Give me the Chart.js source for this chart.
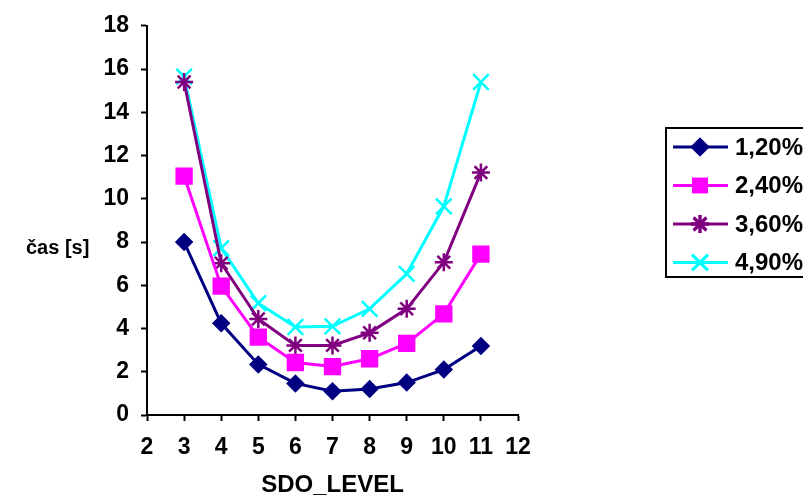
<!DOCTYPE html>
<html lang="sk">
<head>
  <meta charset="UTF-8" />
  <title>SDO_LEVEL vs čas</title>
  <script src="https://cdn.jsdelivr.net/npm/chart.js"></script>
  <style>
    html, body { margin: 0; padding: 0; background: #fff; }
    #wrap { width: 803px; height: 497px; position: relative; }
  </style>
</head>
<body>
<div id="wrap"><canvas id="chart" width="803" height="497"></canvas></div>

<script>
  // data
  const levels = [3, 4, 5, 6, 7, 8, 9, 10, 11];
  const seriesNames = ['1,20%', '2,40%', '3,60%', '4,90%'];
  const s120 = [8.0, 4.24, 2.34, 1.46, 1.1, 1.2, 1.5, 2.1, 3.19];
  const s240 = [11.05, 5.96, 3.6, 2.43, 2.24, 2.6, 3.31, 4.68, 7.44];
  const s360 = [15.4, 7.02, 4.44, 3.22, 3.22, 3.8, 4.91, 7.06, 11.21];
  const s490 = [15.65, 7.72, 5.17, 4.07, 4.1, 4.91, 6.53, 9.65, 15.4];
  const yTicks = [0, 2, 4, 6, 8, 10, 12, 14, 16, 18];

  const FONT = 'Arial, "Liberation Sans", sans-serif';

  function pts(vals) {
    return levels.map((x, i) => ({ x: x, y: vals[i] }));
  }

  function makeSet(label, vals, color, style, radius) {
    return {
      label: label,
      data: pts(vals),
      borderColor: color,
      backgroundColor: color,
      borderWidth: 3,
      pointStyle: style,
      pointRadius: radius,
      pointBorderColor: color,
      pointBackgroundColor: color,
      pointBorderWidth: 2.5,
      tension: 0,
      clip: false
    };
  }

  // boxed legend on the right, like the original (runs off the edge)
  const boxLegend = {
    id: 'boxLegend',
    afterDraw(chart) {
      const ctx = chart.ctx;
      ctx.save();
      ctx.strokeStyle = '#000';
      ctx.lineWidth = 2;
      ctx.strokeRect(666, 128, 200, 149);
      chart.data.datasets.forEach((ds, i) => {
        const y = 147 + i * 38.5;
        ctx.strokeStyle = ds.borderColor;
        ctx.lineWidth = 3;
        ctx.beginPath();
        ctx.moveTo(673, y);
        ctx.lineTo(728, y);
        ctx.stroke();
        Chart.helpers.drawPoint(ctx, {
          pointStyle: ds.pointStyle,
          radius: ds.pointStyle === 'rect' ? 9 : ds.pointRadius,
          borderWidth: ds.pointBorderWidth,
          rotation: 0
        }, 700, y);
        ctx.fillStyle = ds.borderColor;
        ctx.strokeStyle = ds.borderColor;
        ctx.fill();
        ctx.stroke();
        ctx.fillStyle = '#000';
        ctx.font = 'bold 24px ' + FONT;
        ctx.textBaseline = 'middle';
        ctx.textAlign = 'left';
        ctx.fillText(ds.label, 735, y + 1);
      });
      // horizontal y title
      ctx.fillStyle = '#000';
      ctx.font = 'bold 20px ' + FONT;
      ctx.textAlign = 'left';
      ctx.textBaseline = 'middle';
      ctx.fillText('čas [s]', 26, 248);
      ctx.restore();
    }
  };

  new Chart(document.getElementById('chart'), {
    type: 'line',
    data: {
      datasets: [
        makeSet(seriesNames[0], s120, '#000080', 'rectRot', 7.5),
        makeSet(seriesNames[1], s240, '#FF00FF', 'rect', 10.5),
        makeSet(seriesNames[2], s360, '#800080', 'star', 9),
        makeSet(seriesNames[3], s490, '#00FFFF', 'crossRot', 11)
      ]
    },
    options: {
      responsive: false,
      animation: false,
      layout: { padding: { left: 0, right: 285, top: 20, bottom: 0 } },
      plugins: { legend: { display: false }, tooltip: { enabled: false } },
      scales: {
        x: {
          type: 'linear',
          min: 2,
          max: 12,
          afterFit(scale) { scale.height = 82; },
          ticks: { stepSize: 1, color: '#000', padding: 13, font: { family: FONT, size: 23, weight: 'bold' } },
          grid: { drawOnChartArea: false, tickLength: 6, tickColor: '#000', tickWidth: 2 },
          border: { color: '#000', width: 2 },
          title: { display: true, text: 'SDO_LEVEL', color: '#000', padding: { top: 0, bottom: -3 }, font: { family: FONT, size: 24, weight: 'bold' } }
        },
        y: {
          min: 0,
          max: 18,
          afterFit(scale) { scale.width = 147; },
          afterBuildTicks(scale) { scale.ticks = yTicks.map(v => ({ value: v })); },
          ticks: { color: '#000', padding: 12, font: { family: FONT, size: 23, weight: 'bold' } },
          grid: { drawOnChartArea: false, tickLength: 6, tickColor: '#000', tickWidth: 2 },
          border: { color: '#000', width: 2 }
        }
      }
    },
    plugins: [boxLegend]
  });
</script>
</body>
</html>
